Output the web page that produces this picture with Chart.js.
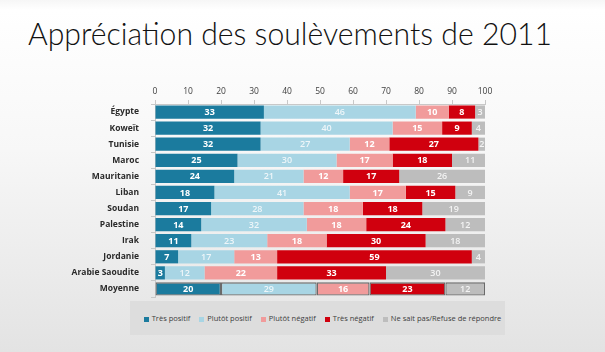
<!DOCTYPE html>
<html>
<head>
<meta charset="utf-8">
<script src="https://cdn.jsdelivr.net/npm/chart.js@4"></script>
<style>
    html, body { margin: 0; padding: 0; }
    body {
        width: 605px; height: 352px; overflow: hidden; position: relative;
        background: linear-gradient(to bottom, #f6f6f6 0px, #ffffff 10px, #f7f7f7 150px, #e3e3e3 352px);
        font-family: "Open Sans", sans-serif;
    }
    #title {
        position: absolute; left: 28px; top: 14px; margin: 0;
        font-family: "Lato", sans-serif; font-weight: 300; font-size: 31px;
        color: #111; white-space: nowrap; transform-origin: left top;
    }
    #chart-wrap { position: absolute; left: 0; top: 0; width: 605px; height: 352px; }
    #legend {
        position: absolute; left: 130px; top: 301px; width: 375px; height: 34px;
        box-sizing: border-box; padding-left: 10px;
        background: #dddddd; display: flex; align-items: center; justify-content: center;
        font-size: 7.5px; color: #404040; gap: 9px;
    }
    #legend span.sq { display: inline-block; width: 5px; height: 5px; margin-right: 3px; vertical-align: middle; }
</style>
</head>
<body>
<h1 id="title">Appréciation des soulèvements de 2011</h1>
<div id="chart-wrap"><canvas id="chart" width="605" height="352"></canvas></div>
<div id="legend"></div>
<script>
// Data
const countries = ['Égypte', 'Koweït', 'Tunisie', 'Maroc', 'Mauritanie', 'Liban', 'Soudan',
    'Palestine', 'Irak', 'Jordanie', 'Arabie Saoudite', 'Moyenne'];
const tresPositif   = [33, 32, 32, 25, 24, 18, 17, 14, 11, 7, 3, 20];
const plutotPositif = [46, 40, 27, 30, 21, 41, 28, 32, 23, 17, 12, 29];
const plutotNegatif = [10, 15, 12, 17, 12, 17, 18, 18, 18, 13, 22, 16];
const tresNegatif   = [8, 9, 27, 18, 17, 15, 18, 24, 30, 59, 33, 23];
const nsp           = [3, 4, 2, 11, 26, 9, 19, 12, 18, 4, 30, 12];
const seriesNames = ['Très positif', 'Plutôt positif', 'Plutôt négatif', 'Très négatif',
    'Ne sait pas/Refuse de répondre'];
const xTicks = [0, 10, 20, 30, 40, 50, 60, 70, 80, 90, 100];

const colors = ['#1b7b9e', '#a8d5e4', '#f19b9b', '#d0000e', '#bdbdbd'];
const labelColors = ['#ffffff', '#eef6f9', '#ffffff', '#ffffff', '#f4f4f4'];
const allSeries = [tresPositif, plutotPositif, plutotNegatif, tresNegatif, nsp];

// Border only on the "Moyenne" row
const lastIdx = countries.length - 1;
const borderW = countries.map((c, i) => i === lastIdx ? 1.3 : 0);

const datasets = allSeries.map((vals, i) => ({
    label: seriesNames[i],
    data: vals,
    backgroundColor: colors[i],
    borderColor: '#6a6a6a',
    borderWidth: borderW,
    borderSkipped: false,
    barPercentage: 0.82,
    categoryPercentage: 1.0
}));

// Simple value labels inside the bars
const barLabels = {
    id: 'barLabels',
    afterDatasetsDraw(chart) {
        const ctx = chart.ctx;
        ctx.save();
        ctx.textAlign = 'center';
        ctx.textBaseline = 'middle';
        chart.data.datasets.forEach((ds, di) => {
            const meta = chart.getDatasetMeta(di);
            ctx.font = (di === 1 || di === 4 ? '600 ' : 'bold ') + '9px "Open Sans"';
            ctx.fillStyle = labelColors[di];
            meta.data.forEach((bar, i) => {
                const v = ds.data[i];
                if (!v) return;
                ctx.fillText(v, (bar.x + bar.base) / 2, bar.y + 0.5);
            });
        });
        ctx.restore();
    }
};

new Chart(document.getElementById('chart'), {
    type: 'bar',
    data: { labels: countries, datasets: datasets },
    options: {
        indexAxis: 'y',
        responsive: false,
        animation: false,
        layout: { padding: { top: 80, left: 0, right: 120, bottom: 55 } },
        plugins: {
            legend: { display: false },
            tooltip: { enabled: false },
            title: { display: false }
        },
        scales: {
            x: {
                stacked: true,
                position: 'top',
                min: 0,
                max: 100,
                afterBuildTicks: (scale) => { scale.ticks = xTicks.map(v => ({ value: v })); },
                afterFit: (scale) => { scale.height = 24; },
                ticks: { color: '#404040', font: { family: 'Open Sans', size: 8.5 }, padding: 3 },
                grid: { drawOnChartArea: false, tickLength: 4, color: '#c8c8c8' },
                border: { color: '#c8c8c8' }
            },
            y: {
                stacked: true,
                afterFit: (scale) => { scale.width = 155; },
                ticks: { color: '#2a2a2a', font: { family: 'Open Sans', size: 8.5, weight: 'bold' }, padding: 12 },
                grid: { drawOnChartArea: false, tickLength: 4, color: '#c8c8c8' },
                border: { color: '#c8c8c8' }
            }
        }
    },
    plugins: [barLabels]
});

// Legend as HTML
const legend = document.getElementById('legend');
seriesNames.forEach((name, i) => {
    const item = document.createElement('div');
    item.innerHTML = '<span class="sq" style="background:' + colors[i] + '"></span>' + name;
    legend.appendChild(item);
});

// Fit the title to the slide width
const title = document.getElementById('title');
const w = title.getBoundingClientRect().width;
title.style.transform = 'scaleX(' + (524 / w) + ')';
</script>
</body>
</html>
